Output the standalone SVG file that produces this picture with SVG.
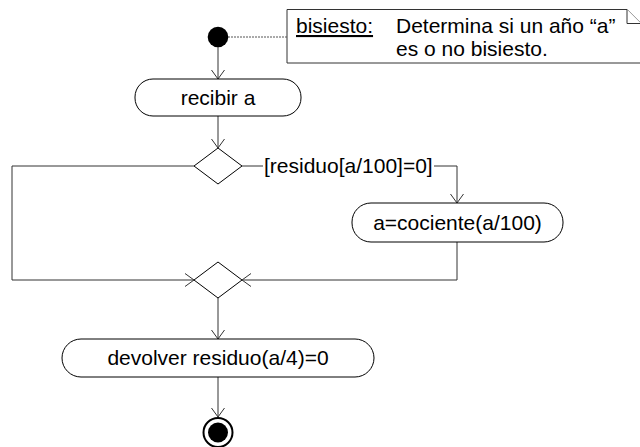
<svg xmlns="http://www.w3.org/2000/svg" width="640" height="447" viewBox="0 0 640 447">
  <style>
    text { font-family: "Liberation Sans", Arial, sans-serif; font-size: 21px; fill: #000; }
    .act { fill: #fff; stroke: #000; stroke-width: 1; }
    .dec { fill: #fff; stroke: #000; stroke-width: 1; }
    .flow { fill: none; stroke: #333; stroke-width: 1; }
    .note { fill: #fff; stroke: #333; stroke-width: 1; }
  </style>
  <defs>
    <marker id="open" viewBox="-11 -8 12 16" markerWidth="12" markerHeight="16" refX="0" refY="0" orient="auto" markerUnits="userSpaceOnUse">
      <path d="M-9,-6.5 L0,0 L-9,6.5" fill="none" stroke="#333" stroke-width="1"/>
    </marker>
  </defs>

  <!-- note attached to the start node -->
  <g id="note">
    <path class="note" d="M287,9.5 H627 L641,23.5 V63 H287 Z"/>
    <path class="note" d="M627,9.5 V23.5 H641" fill="none"/>
    <text x="296" y="33" text-decoration="underline">bisiesto:</text>
    <text x="396" y="33">Determina si un año “a”</text>
    <text x="396" y="56">es o no bisiesto.</text>
  </g>

  <g id="connectors">
    <line x1="228" y1="37" x2="287" y2="37" stroke="#555" stroke-width="1" stroke-dasharray="2,1"/>
    <line class="flow" x1="218" y1="47" x2="218" y2="79" marker-end="url(#open)"/>
    <line class="flow" x1="218" y1="116" x2="218" y2="148" marker-end="url(#open)"/>
    <!-- guard branch to the right -->
    <line class="flow" x1="242" y1="166" x2="263" y2="166"/>
    <polyline class="flow" points="434,166 457,166 457,203" marker-end="url(#open)"/>
    <text x="264" y="173">[residuo[a/100]=0]</text>
    <polyline class="flow" points="457,242 457,280 242,280" marker-end="url(#open)"/>
    <!-- else branch to the left -->
    <polyline class="flow" points="194,166 12,166 12,280 194,280" marker-end="url(#open)"/>
    <line class="flow" x1="218" y1="298" x2="218" y2="339" marker-end="url(#open)"/>
    <line class="flow" x1="218" y1="377" x2="218" y2="417" marker-end="url(#open)"/>
  </g>

  <g id="start">
    <circle cx="218" cy="37" r="10.3" fill="#000"/>
  </g>

  <g id="recibir">
    <rect class="act" x="135" y="79" width="166" height="37" rx="18" ry="18"/>
    <text x="218" y="104.5" text-anchor="middle">recibir a</text>
  </g>

  <g id="decision">
    <polygon class="dec" points="218,148 242,166 218,184 194,166"/>
  </g>

  <g id="cociente">
    <rect class="act" x="352" y="203" width="211" height="39" rx="19" ry="19"/>
    <text x="457.5" y="229.5" text-anchor="middle">a=cociente(a/100)</text>
  </g>

  <g id="merge">
    <polygon class="dec" points="218,262 242,280 218,298 194,280"/>
  </g>

  <g id="devolver">
    <rect class="act" x="62" y="339" width="312" height="38" rx="19" ry="19"/>
    <text x="218" y="365" text-anchor="middle">devolver residuo(a/4)=0</text>
  </g>

  <g id="end">
    <circle cx="218" cy="432.5" r="14.5" fill="#fff" stroke="#000" stroke-width="2"/>
    <circle cx="218" cy="432.5" r="10" fill="#000"/>
  </g>
</svg>
